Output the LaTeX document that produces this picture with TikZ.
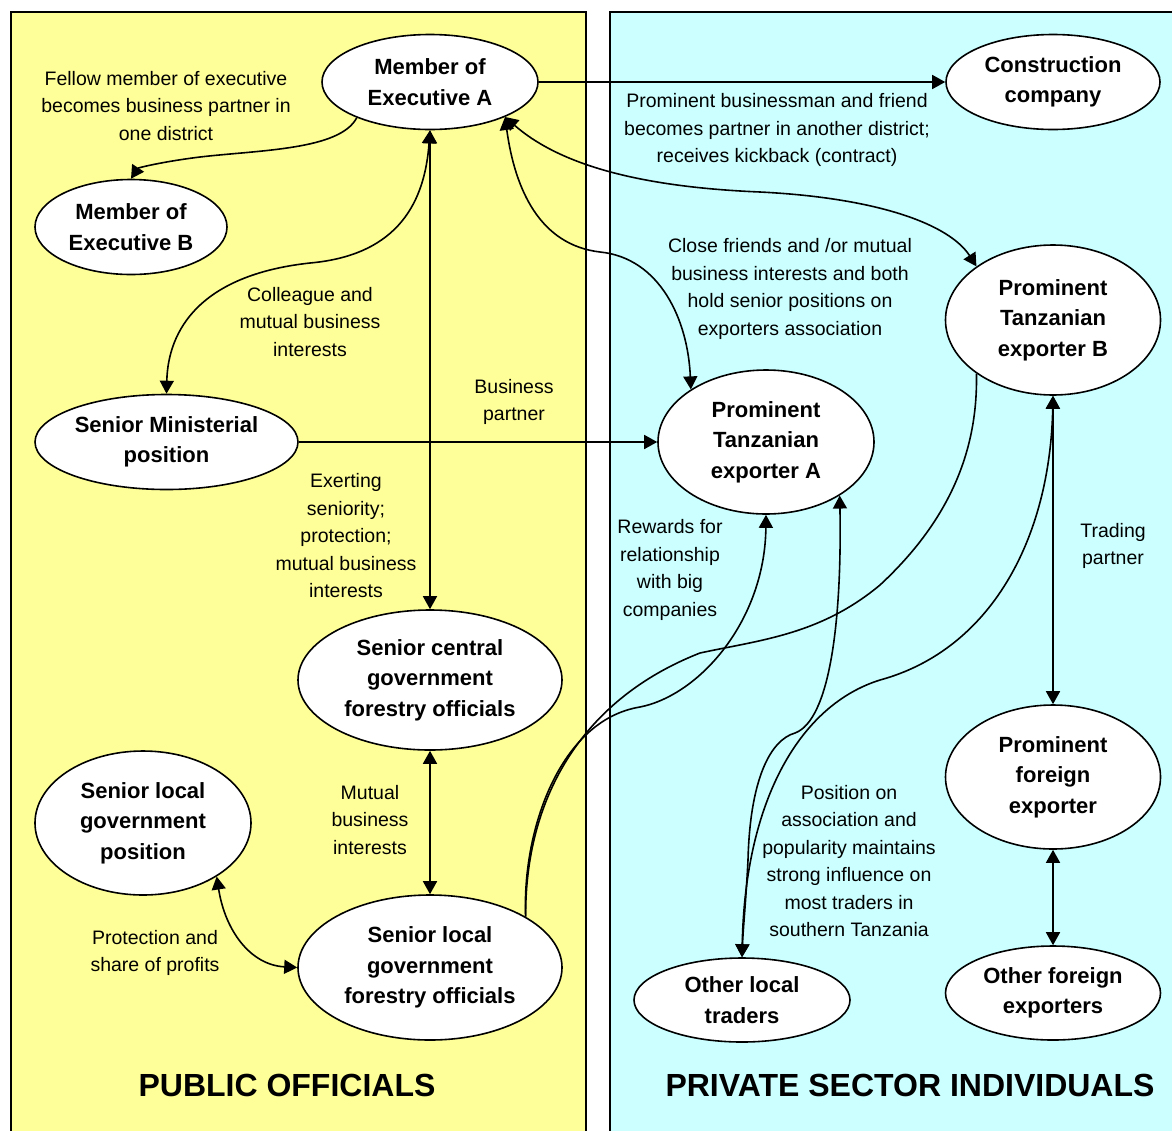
\documentclass[tikz,border=0pt]{standalone}
\usepackage{fontspec}
\setmainfont{Liberation Sans}
\usetikzlibrary{shapes.geometric,arrows.meta}
\definecolor{panelyellow}{HTML}{FFFF99}
\definecolor{panelcyan}{HTML}{CCFFFF}
\begin{document}
\begin{tikzpicture}[x=1pt,y=-1pt,
  ent/.style={ellipse,draw,line width=1.6pt,fill=white,inner sep=0pt,align=center,
    font=\fontsize{22}{30.5}\selectfont\bfseries},
  lab/.style={align=center,inner sep=0pt,font=\fontsize{19.5}{27.5}\selectfont},
  title/.style={inner sep=0pt,font=\fontsize{32}{36}\selectfont\bfseries},
  conn/.style={line width=1.6pt},
  >={Triangle[length=13pt,width=14pt]}
]
\useasboundingbox (0,0) rectangle (1172,1130);
% panels
\fill[panelyellow] (11,12) rectangle (586,1132);
\draw[line width=1.5pt] (11,1132) -- (11,12) -- (586,12) -- (586,1132);
\fill[panelcyan] (610,12) rectangle (1174,1132);
\draw[line width=1.5pt] (610,1132) -- (610,12) -- (1174,12);

% nodes
\node[ent,minimum width=216pt,minimum height=95pt] (ExecA) at (430,82) {Member of\\Executive A};
\node[ent,minimum width=214pt,minimum height=95pt] (Constr) at (1053,82) {Construction\\company};
\node[ent,minimum width=192pt,minimum height=95pt] (ExecB) at (131,227) {Member of\\Executive B};
\node[ent,minimum width=263pt,minimum height=95pt] (Minis) at (166.5,442) {Senior Ministerial\\position};
\node[ent,minimum width=216pt,minimum height=144pt] (ExpA) at (766,442) {Prominent\\Tanzanian\\exporter A};
\node[ent,minimum width=215pt,minimum height=150pt] (ExpB) at (1053,320) {Prominent\\Tanzanian\\exporter B};
\node[ent,minimum width=264pt,minimum height=140pt] (Central) at (430,680) {Senior central\\government\\forestry officials};
\node[ent,minimum width=216pt,minimum height=144pt] (LocPos) at (143,823) {Senior local\\government\\position};
\node[ent,minimum width=264pt,minimum height=145pt] (LocFor) at (430,967.5) {Senior local\\government\\forestry officials};
\node[ent,minimum width=215pt,minimum height=144pt] (ForExp) at (1053,777) {Prominent\\foreign\\exporter};
\node[ent,minimum width=216pt,minimum height=84pt] (LocTr) at (742,1000) {Other local\\traders};
\node[ent,minimum width=215pt,minimum height=94pt] (OthFor) at (1053,993) {Other foreign\\exporters};

% labels
\node[lab] (l1) at (166,106) {Fellow member of executive\\becomes business partner in\\one district};
\node[lab] (l2) at (777,130) {Prominent businessman and friend\\becomes partner in another district;\\receives kickback (contract)};
\node[lab] (l3) at (790,289) {Close friends and /or mutual\\business interests and both\\hold senior positions on\\exporters association};
\node[lab] (l4) at (310,322) {Colleague and\\mutual business\\interests};
\node[lab] (l5) at (514,402) {Business\\partner};
\node[lab] (l6) at (346,536) {Exerting\\seniority;\\protection;\\mutual business\\interests};
\node[lab] (l7) at (670,570) {Rewards for\\relationship\\with big\\companies};
\node[lab] (l8) at (1113,546) {Trading\\partner};
\node[lab] (l9) at (370,820) {Mutual\\business\\interests};
\node[lab] (l10) at (155,953) {Protection and\\share of profits};
\node[lab] (l11) at (849,861) {Position on\\association and\\popularity maintains\\strong influence on\\most traders in\\southern Tanzania};

\node[title] (t1) at (287,1085) {PUBLIC OFFICIALS};
\node[title] (t2) at (910,1085) {PRIVATE SECTOR INDIVIDUALS};

% connectors
\draw[conn,->] (ExecA.east) -- (Constr.west);
\draw[conn,->] (ExecA.206) .. controls (340,150) and (260,150) .. (200,157)
   .. controls (160,162) and (138,168) .. (ExecB.north);
\draw[conn,<->] (ExecA.south) .. controls (425,200) and (400,255) .. (310,263)
   .. controls (200,275) and (168,330) .. (Minis.north);
\draw[conn,<->] (ExecA.south) -- (Central.north);
\draw[conn,<->] (ExecA.335) .. controls (515,190) and (540,245) .. (600,252)
   .. controls (660,258) and (688,320) .. (ExpA.145);
\draw[conn,<->] (ExecA.335) .. controls (560,165) and (640,187) .. (760,192)
   .. controls (880,198) and (950,225) .. (ExpB.145);
\draw[conn,->] (Minis.east) -- (ExpA.west);
\draw[conn,<->] (Central.south) -- (LocFor.north);
\draw[conn,<->] (LocPos.324) .. controls (225,930) and (250,965) .. (LocFor.west);
\draw[conn,->] (LocFor.28) .. controls (522,830) and (560,720) .. (640,707)
   .. controls (700,695) and (765,620) .. (ExpA.south);
\draw[conn] (LocFor.28) .. controls (525,800) and (580,700) .. (700,653)
   .. controls (760,640) and (820,635) .. (880,585)
   .. controls (950,520) and (978,450) .. (ExpB.215);
\draw[conn,<->] (ExpB.south) -- (ForExp.north);
\draw[conn,<->] (ForExp.south) -- (OthFor.north);
\draw[conn,<->] (ExpB.south) .. controls (1050,540) and (990,650) .. (880,680)
   .. controls (800,705) and (745,800) .. (LocTr.north);
\draw[conn,<->] (ExpA.324) .. controls (842,620) and (830,720) .. (795,733)
   .. controls (770,740) and (750,780) .. (748,860)
   .. controls (746,900) and (743,930) .. (LocTr.north);
\end{tikzpicture}
\end{document}
